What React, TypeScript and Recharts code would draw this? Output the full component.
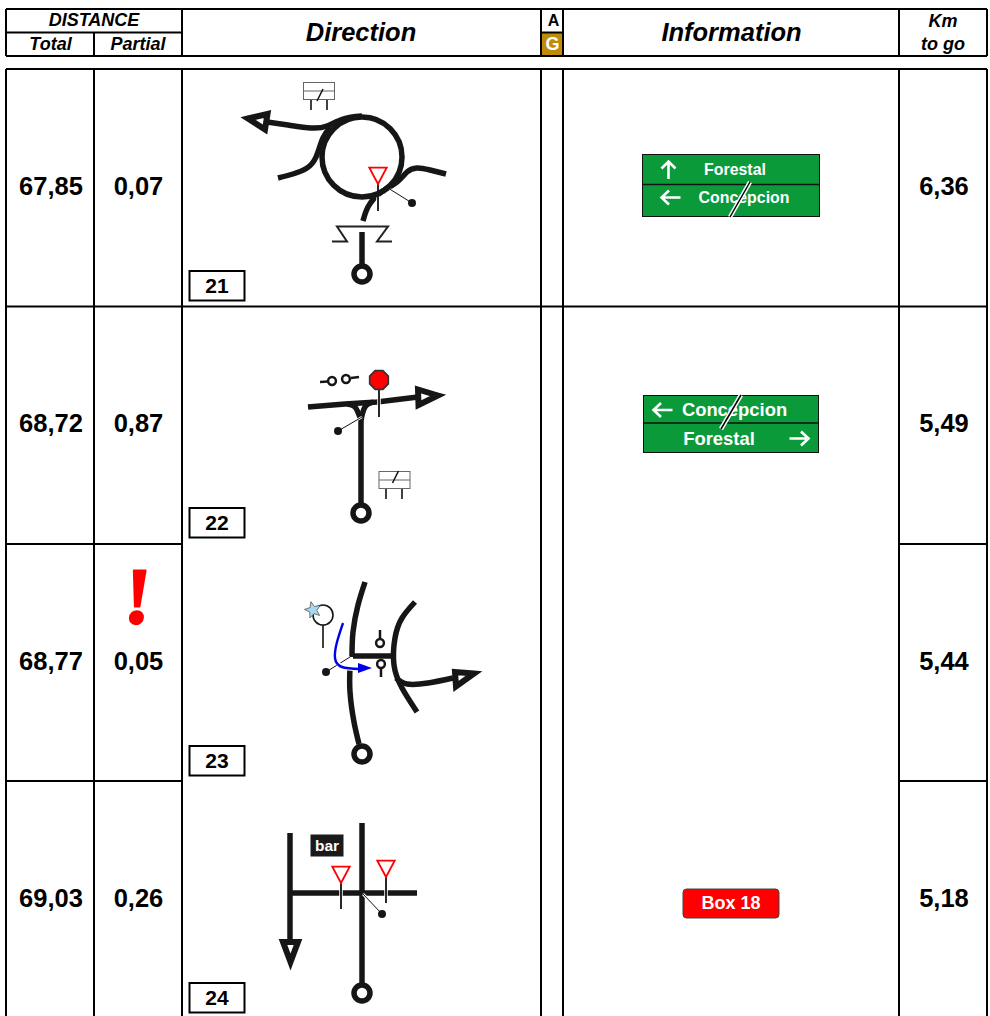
import { ComposedChart, Line, Scatter, XAxis, YAxis, ReferenceLine, ReferenceArea } from "recharts";

const FONT = "Liberation Sans";
const INK = "#161616";
const GREEN = "#0a9a3a";
const GOLD = "#bf8c0a";

// table
const colEdges = [6, 94, 182, 541, 563, 899, 987];
const rowEdges = [69, 306.5, 544, 781, 1016];
const rowMiddles = [185.5, 422.5, 660.5, 897.5];
const boxMiddles = [285.5, 522.5, 760.5, 997.5];
const boxFrames = [286, 523, 761, 998];

const totalKm = [67.85, 68.72, 68.77, 69.03];
const partialKm = [0.07, 0.87, 0.05, 0.26];
const kmToGo = [6.36, 5.49, 5.44, 5.18];
const boxNumbers = [21, 22, 23, 24];

const km = (v: number) => v.toFixed(2).replace(".", ",");

// road lines
const curvedRoads = [
  [[267, 122], [288, 125], [311, 128], [327, 126], [343, 119], [362, 116]],
  [[278, 178], [293, 174], [307, 168], [316, 157], [323, 138], [331, 127]],
  [[446, 174], [430, 170], [417, 168], [407, 172], [397, 182], [380, 193], [368, 207], [363, 221]],
  [[347, 404], [355, 407], [361, 420]],
  [[373, 402], [365, 407], [361, 420]],
  [[365, 582], [358, 605], [353, 632], [352, 657]],
  [[350, 667], [350, 692], [354, 722], [359, 744]],
  [[415, 602], [402, 618], [395, 638], [394, 665], [402, 688], [417, 712]],
  [[396, 678], [407, 684], [428, 683], [453, 678]],
];
const straightRoads = [
  [[362, 232], [362, 266]],
  [[308, 407], [345, 404], [377, 402], [418, 397]],
  [[361, 415], [361, 505]],
  [[353, 656], [394, 656]],
  [[362, 823], [362, 986]],
  [[290, 893], [417, 893]],
  [[290, 833], [290, 943]],
];
const arrowHeads = [
  [[248, 118.5], [267.5, 114], [265, 129.5]],
  [[438, 395.5], [418, 389.5], [418.5, 405]],
  [[474, 673.5], [455, 672], [456, 686.5]],
  [[283, 942], [298, 942], [290.5, 962]],
];
const bridge = [[332, 241.5], [347, 241.5], [337, 226.5], [388, 226.5], [377, 241.5], [392, 241.5]];
const poles = [
  [[378, 184], [378, 211]],
  [[379, 390], [379, 417]],
  [[341, 883], [341, 909]],
  [[386, 877], [386, 903]],
];
const pointers = [
  [[412, 203], [388, 188]],
  [[338, 431], [362, 417]],
  [[326, 672], [350, 657]],
  [[382, 914], [363, 894]],
];
const thinLines = [
  [[311, 100], [311, 110]],
  [[327, 100], [327, 110]],
  [[386, 489], [386, 499]],
  [[402, 489], [402, 499]],
  [[323, 625], [323, 648]],
];
const stems = [
  [[320, 382], [328, 381.5]],
  [[351, 378], [359, 377]],
  [[380, 630], [380, 639]],
  [[381, 668], [381, 677]],
];
const blueTurn = [[343, 623], [337, 642], [335, 658], [342, 667], [360, 669]];

// sign positions
const startRings = [[362, 274], [361, 513], [362, 754], [362, 993]];
const roundabouts = [[362, 157]];
const dots = [[412, 203], [338, 431], [326, 672], [382, 914]];
const yieldSigns = [[378, 173], [341, 872], [386, 866]];
const stopSigns = [[379, 380]];
const smallRings = [[332, 381], [346, 379], [380, 643], [381, 664]];
const panels = [[319, 91, -2, 10, 4, -2], [394.5, 480, -2, 3, 4, -9]];
const starCircles = [[323, 615]];
const stars = [[313, 610]];
const blueHeads = [[365, 668]];
const barTags = [[327, 845.5]];
const greenSigns = [[731, 185.5, 177, 62], [731, 424, 175, 57]];
const signArrows = [[668.5, 170, 0], [671, 197.5, -1], [663, 410, -1], [799, 438.5, 1]];
const signSlashes = [[730, 217, 20, -35], [721, 429, 20, -34]];
const signTexts16 = [[735, 169.5, "Forestal"], [744, 197.5, "Concepcion"]];
const signTexts18 = [[734.5, 409.5, "Concepcion"], [719, 438, "Forestal"]];
const redBoxes = [[731, 903.5]];
const warnings = [[136, 623]];

const hRules = [
  [9, 6, 987], [32.5, 6, 182], [32.5, 541, 563], [56, 6, 987],
  [rowEdges[0], 6, 987], [rowEdges[1], 6, 987],
  [rowEdges[2], 6, 182], [rowEdges[2], 899, 987],
  [rowEdges[3], 6, 182], [rowEdges[3], 899, 987],
];
const vRules = colEdges.flatMap((x) => [[x, x === 94 ? 32.5 : 9, 56], [x, rowEdges[0], 1016]]);

const pts = (list: any[]) => list.map(([x, y]) => ({ x, y }));

const road = (key: string, list: number[][], type: string, color = INK, width = 5.5) => (
  <Line key={key} data={pts(list)} dataKey="y" type={type as any} stroke={color} strokeWidth={width}
    dot={false} activeDot={false} isAnimationActive={false} legendType="none" />
);

const glyphs = (key: string, list: any[], shape: (p: any, d: any) => any) => (
  <Scatter key={key} isAnimationActive={false} legendType="none"
    data={list.map((d) => ({ x: d[0], y: d[1], d }))}
    shape={(p: any) => shape(p, p.payload.d)} />
);

const labels = (key: string, x: number[] | number, ys: number[], texts: any[], size: number, extra: any = {}) => (
  <Scatter key={key} isAnimationActive={false} legendType="none"
    data={ys.map((y, i) => ({ x: Array.isArray(x) ? x[i] : x, y, text: texts[i] }))}
    shape={(p: any) => (
      <text x={p.cx} y={p.cy + size * 0.358} textAnchor="middle" fontFamily={FONT} fontWeight="bold"
        fontSize={size} fill="#000" {...extra}>{p.payload.text}</text>
    )} />
);

const italic = { fontStyle: "italic" };
const white = { fill: "#fff" };

export default function App() {
  return (
    <div style={{ position: "absolute", left: 0, top: 0, width: 990, height: 1016, overflow: "hidden" }}>
      <ComposedChart width={990} height={1016} margin={{ top: 0, right: 0, bottom: 0, left: 0 }}>
        <XAxis dataKey="x" type="number" domain={[0, 990]} hide />
        <YAxis dataKey="y" type="number" domain={[0, 1016]} reversed hide />

        <ReferenceArea x1={541} x2={563} y1={32} y2={56} fill={GOLD} fillOpacity={1} stroke="none" />
        {hRules.map(([y, a, b], i) => (
          <ReferenceLine key={"h" + i} segment={[{ x: a, y }, { x: b, y }]} stroke="#000" strokeWidth={2} />
        ))}
        {vRules.map(([x, a, b], i) => (
          <ReferenceLine key={"v" + i} segment={[{ x, y: a }, { x, y: b }]} stroke="#000" strokeWidth={2} />
        ))}

        {curvedRoads.map((r, i) => road("cr" + i, r, "natural"))}
        {straightRoads.map((r, i) => road("sr" + i, r, "linear"))}
        {arrowHeads.map((r, i) => road("ah" + i, r, "linearClosed", INK, 6))}
        {road("bridge", bridge, "linear", "#222", 2)}
        {thinLines.map((r, i) => road("th" + i, r, "linear", "#111", 1.6))}
        {stems.map((r, i) => road("st" + i, r, "linear", INK, 2.5))}
        {poles.map((r, i) => road("ph" + i, r, "linear", "#fff", 3.5))}
        {poles.map((r, i) => road("pl" + i, r, "linear", "#111", 1.8))}
        {pointers.map((r, i) => road("pth" + i, r, "linear", "#fff", 2.6))}
        {pointers.map((r, i) => road("ptl" + i, r, "linear", "#111", 1))}
        {road("blueHalo", blueTurn.slice(2), "natural", "#fff", 4.5)}
        {road("blue", blueTurn, "natural", "#0000e6", 2.4)}

        {glyphs("rb", roundabouts, (p) => <circle cx={p.cx} cy={p.cy} r={40} fill="none" stroke={INK} strokeWidth={5.5} />)}
        {glyphs("sr", startRings, (p) => <circle cx={p.cx} cy={p.cy} r={8} fill="#fff" stroke={INK} strokeWidth={5.5} />)}
        {glyphs("dot", dots, (p) => <circle cx={p.cx} cy={p.cy} r={4} fill={INK} />)}
        {glyphs("small", smallRings, (p) => <circle cx={p.cx} cy={p.cy} r={3.9} fill="#fff" stroke={INK} strokeWidth={2.5} />)}
        {glyphs("yield", yieldSigns, (p) => (
          <polygon points={`${p.cx - 8.7},${p.cy - 5.3} ${p.cx + 8.7},${p.cy - 5.3} ${p.cx},${p.cy + 11}`}
            fill="#fff" stroke="#f00" strokeWidth={1.8} />
        ))}
        {glyphs("stop", stopSigns, (p) => {
          const o = [-9.3, -3.9, 3.9, 9.3];
          const ring = [[o[1], o[0]], [o[2], o[0]], [o[3], o[1]], [o[3], o[2]], [o[2], o[3]], [o[1], o[3]], [o[0], o[2]], [o[0], o[1]]];
          return <polygon points={ring.map(([a, b]) => `${p.cx + a},${p.cy + b}`).join(" ")} fill="#f00" stroke="#333" strokeWidth={1.7} />;
        })}
        {glyphs("panel", panels, (p, d) => (
          <g fill="none" stroke="#666" strokeWidth={1}>
            <rect x={p.cx - 15.5} y={p.cy - 8.5} width={31} height={17} fill="#fff" />
            <line x1={p.cx - 15.5} x2={p.cx + 15.5} y1={p.cy} y2={p.cy} />
            <line x1={p.cx + d[2]} y1={p.cy + d[3]} x2={p.cx + d[4]} y2={p.cy + d[5]} stroke="#111" strokeWidth={1.6} />
          </g>
        ))}
        {glyphs("starC", starCircles, (p) => <circle cx={p.cx} cy={p.cy} r={10} fill="#fff" stroke={INK} strokeWidth={1.6} />)}
        {glyphs("star", stars, (p) => {
          const corners = Array.from({ length: 10 }, (_, i) => {
            const r = i % 2 ? 3.8 : 8.6;
            const a = (i * Math.PI) / 5 - Math.PI / 2 - 0.25;
            return `${p.cx + r * Math.cos(a)},${p.cy + r * Math.sin(a)}`;
          });
          return <polygon points={corners.join(" ")} fill="#a6d8f0" stroke="#555" strokeWidth={0.8} />;
        })}
        {glyphs("blueHead", blueHeads, (p) => (
          <polygon points={`${p.cx - 7},${p.cy - 5} ${p.cx + 7},${p.cy} ${p.cx - 7},${p.cy + 5}`} fill="#0000e6" />
        ))}
        {glyphs("bar", barTags, (p) => <rect x={p.cx - 16.5} y={p.cy - 11} width={33} height={22} fill="#1a1a1a" />)}
        {labels("barText", 327, [845.5], ["bar"], 15.5, white)}

        {glyphs("green", greenSigns, (p, d) => (
          <g fill={GREEN} stroke="#111" strokeWidth={1}>
            <rect x={p.cx - d[2] / 2} y={p.cy - d[3] / 2} width={d[2]} height={d[3]} />
            <line x1={p.cx - d[2] / 2} x2={p.cx + d[2] / 2} y1={p.cy - 1} y2={p.cy - 1} strokeWidth={1.5} />
          </g>
        ))}
        {labels("t16", signTexts16.map((t) => t[0] as number), signTexts16.map((t) => t[1] as number), signTexts16.map((t) => t[2]), 15.9, white)}
        {labels("t18", signTexts18.map((t) => t[0] as number), signTexts18.map((t) => t[1] as number), signTexts18.map((t) => t[2]), 18.4, white)}
        {glyphs("arrows", signArrows, (p, d) => {
          const path = d[2] === 0
            ? `M${p.cx},${p.cy + 9} V${p.cy - 8} M${p.cx - 7},${p.cy - 1.5} L${p.cx},${p.cy - 8.5} L${p.cx + 7},${p.cy - 1.5}`
            : `M${p.cx - 9.5 * d[2]},${p.cy} H${p.cx + 9 * d[2]} M${p.cx + 2 * d[2]},${p.cy - 7} L${p.cx + 9.5 * d[2]},${p.cy} L${p.cx + 2 * d[2]},${p.cy + 7}`;
          return <path d={path} fill="none" stroke="#fff" strokeWidth={2.6} />;
        })}
        {glyphs("slash", signSlashes, (p, d) => (
          <g>
            <line x1={p.cx} y1={p.cy} x2={p.cx + d[2]} y2={p.cy + d[3]} stroke="#fff" strokeWidth={4.5} />
            <line x1={p.cx} y1={p.cy} x2={p.cx + d[2]} y2={p.cy + d[3]} stroke="#000" strokeWidth={1.5} />
          </g>
        ))}

        {glyphs("redBox", redBoxes, (p) => (
          <rect x={p.cx - 48} y={p.cy - 14.5} width={96} height={29} rx={3.5} fill="#f00" stroke="#444" strokeWidth={1} />
        ))}
        {labels("boxText", 731, [903], ["Box 18"], 18, white)}

        {labels("total", 51, rowMiddles, totalKm.map(km), 25.5)}
        {labels("partial", 138.5, rowMiddles, partialKm.map(km), 25.5)}
        {labels("togo", 944, rowMiddles, kmToGo.map(km), 25.5)}
        {glyphs("numBoxes", boxFrames.map((y) => [217, y]), (p) => (
          <rect x={p.cx - 27.5} y={p.cy - 15} width={55} height={29.5} fill="#fff" stroke="#000" strokeWidth={2} />
        ))}
        {labels("boxNum", 217, boxMiddles, boxNumbers, 21)}

        {/* the warning mark leans a little, so it gets its own skewed text */}
        {glyphs("warn", warnings, (p) => (
          <g transform={`translate(${p.cx},${p.cy}) skewX(-4)`}>
            <text textAnchor="middle" fontFamily="Liberation Serif" fontWeight="bold" fontSize={80} fill="#f00"
              stroke="#f00" strokeWidth={2} strokeLinejoin="round">!</text>
          </g>
        ))}

        {labels("h1", 94, [20], ["DISTANCE"], 18, italic)}
        {labels("h2", 50.5, [44], ["Total"], 18, italic)}
        {labels("h3", 138, [44], ["Partial"], 18, italic)}
        {labels("h4", 361, [32], ["Direction"], 25.5, italic)}
        {labels("h5", 731.5, [32], ["Information"], 25.5, italic)}
        {labels("h6", 943, [21], ["Km"], 18, italic)}
        {labels("h7", 943, [44], ["to go"], 18, italic)}
        {labels("h8", 553.5, [20.5], ["A"], 16)}
        {labels("h9", 552.5, [44], ["G"], 18, white)}
      </ComposedChart>
    </div>
  );
}
